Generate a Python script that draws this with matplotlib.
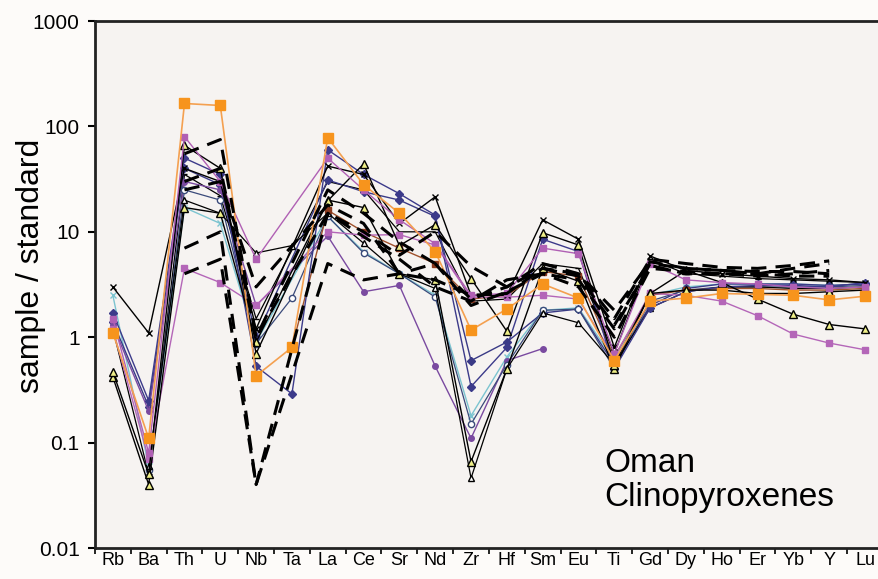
import matplotlib.pyplot as plt
import numpy as np

nan = np.nan

# element order on the x axis
elements = ['Rb', 'Ba', 'Th', 'U', 'Nb', 'Ta', 'La', 'Ce', 'Sr', 'Nd', 'Zr',
            'Hf', 'Sm', 'Eu', 'Ti', 'Gd', 'Dy', 'Ho', 'Er', 'Yb', 'Y', 'Lu']

# sample / standard values (nan = not analysed)
orange_sq = [1.1, 0.11, 165, 158, 0.43, 0.8, 78, 28, 15, 6.5, 1.17, 1.85,
             3.2, 2.35, 0.6, 2.2, 2.35, 2.6, 2.55, 2.5, 2.26, 2.45]
magenta_hi = [1.5, 0.08, 80, 30, 5.5, nan, 50, 25, 13, 7.7, 2.5, 2.6,
              7.0, 6.2, 0.7, 5.0, 3.5, 3.3, 3.2, 3.0, 2.9, 3.0]
magenta_lo = [1.2, 0.07, 4.5, 3.3, 2.0, nan, 10, 9.3, 9.4, 7.5, 2.4, 2.4,
              2.5, 2.3, 0.65, 2.6, 2.5, 2.2, 1.6, 1.07, 0.88, 0.76]
navy_a = [1.7, 0.25, 50, 35, 0.53, 0.29, 60, 35, 23, 14.4, 0.34, 0.8,
          8.5, 6.5, 0.5, 1.9, 2.7, 3.0, 3.1, 3.1, 3.0, 3.3]
navy_b = [1.4, 0.22, 40, 28, 1.0, nan, 31, 24, 20, 14, 0.6, 0.9,
          1.7, 1.85, 0.55, 2.0, 2.9, 3.2, 3.2, 3.2, 3.1, 3.2]
violet = [1.3, 0.2, 30, 25, 2.0, nan, 9.1, 2.7, 3.1, 0.53, 0.11, 0.6,
          0.78, nan, nan, nan, nan, nan, nan, nan, nan, nan]
black_x = [3.0, 1.1, 40, 30, 1.2, nan, 42, 35, 12, 21.5, 2.5, 2.5,
           13, 8.5, 0.8, 5.9, 4.3, 4.0, 3.8, 3.6, 3.5, 3.3]
cyan = [2.5, 0.06, 17, 12, 0.9, nan, 14, 6.5, 4.0, 2.5, 0.18, 0.65,
        1.8, 1.9, 0.6, 2.5, 3.0, 3.2, 3.2, 3.2, 3.1, 3.2]
tri_hi = [0.47, 0.05, 66, 40, 0.7, nan, 19.7, 44, 7.4, 11.7, 3.6, 1.14,
          9.8, 7.5, 0.55, 2.6, 4.3, 3.3, 2.3, 1.65, 1.32, 1.2]
tri_lo = [0.42, 0.04, 17, 15, 0.9, nan, 20, 17, 4.0, 3.5, 0.066, 0.5,
          4.5, 3.4, 0.5, 2.6, 2.8, 2.8, 2.6, 2.6, 2.7, 2.8]
white_tri = [nan, 0.06, 20, 15, 6.3, 7.4, 15, 7.8, 4.0, 2.9, 0.046, 0.5,
             1.7, 1.37, 0.55, 1.9, 2.7, 3.0, 3.0, 2.9, 2.9, 3.0]
white_circ = [nan, 0.055, 25, 20, 0.87, 2.35, 14, 6.3, 4.0, 2.4, 0.15, 0.55,
              1.8, 1.85, 0.5, 2.2, 2.8, 3.0, 3.0, 3.0, 3.0, 3.1]
brown = [nan, nan, nan, nan, nan, 0.8, 16, 10, 7.0, 5.0, 2.3, 2.5,
         4.2, 3.8, 0.65, 2.5, 2.8, 2.9, 2.9, 2.8, 2.8, 2.9]
black_plain = [1.2, 0.05, 35, 22, 1.5, nan, 30, 25, 10, 10, 2.2, 2.3,
               5.0, 4.5, 0.7, 5.5, 4.0, 3.8, 3.6, 3.5, 3.4, 3.3]

dashed = [
    [nan, nan, 55, 75, 1.0, nan, 15, 10, 6.0, 10, 4.7, 3.0, 4.5, 4.0, 1.5, 5.5, 5.0, 4.6, 4.5, 4.8, 5.3, nan],
    [nan, nan, 7, 10, 0.04, nan, 15, 9, 5.5, 3.0, 2.2, 3.5, 4.0, 3.5, 1.2, 5.0, 4.5, 4.3, 4.0, 4.5, 5.0, nan],
    [nan, nan, 4, 5.5, 0.04, nan, 5, 3.5, 4.0, 5.0, 2.0, 2.7, 4.0, 3.0, 1.0, 4.5, 4.2, 4.0, 3.8, 4.0, 4.3, nan],
    [nan, nan, 30, 40, 1.0, nan, 25, 15, 8.0, 5.0, 2.3, 3.0, 5.0, 4.0, 1.8, 5.2, 4.5, 4.3, 4.2, 4.2, 4.0, nan],
    [nan, nan, 25, 30, 3.0, nan, 18, 12, 4.0, 3.5, 2.5, 2.6, 4.5, 3.8, 1.3, 4.8, 4.0, 4.0, 4.0, 3.8, 3.8, nan],
]

x = np.arange(len(elements))
font = ['Liberation Sans', 'DejaVu Sans']


def draw(vals, **kw):
    # skip missing elements so the line joins the neighbours directly
    v = np.array(vals, dtype=float)
    ok = ~np.isnan(v)
    ax.plot(x[ok], v[ok], **kw)


fig = plt.figure(figsize=(8.79, 5.79), dpi=100, facecolor='#fdfbf9')
ax = fig.add_axes([0.108, 0.0535, 0.8965, 0.9102])
ax.set_facecolor('#f6f3f1')

draw(black_plain, color='black', lw=0.9, marker='_', ms=4)
draw(cyan, color='#7cc4d0', lw=1.0, marker='x', ms=4, mew=1)
draw(navy_b, color='#3a3a86', lw=1.0, marker='D', ms=4)
draw(violet, color='#7a4aa0', lw=1.0, marker='o', ms=4)
draw(white_circ, color='#3a4a7a', lw=0.9, marker='o', ms=4.5, mfc='white')
draw(white_tri, color='black', lw=0.9, marker='^', ms=5, mfc='white')
draw(brown, color='#a0522d', lw=1.0, marker='s', ms=4.5, mfc='#8b3a1e', mec='#8b3a1e')
draw(magenta_lo, color='#b466b8', lw=1.0, marker='s', ms=4.5)
draw(navy_a, color='#3c3a8a', lw=1.0, marker='D', ms=4)
draw(black_x, color='black', lw=1.0, marker='x', ms=4, mew=1)
draw(tri_lo, color='black', lw=1.0, marker='^', ms=5.5, mfc='#eeee88', mec='black')
draw(tri_hi, color='black', lw=1.0, marker='^', ms=5.5, mfc='#eeee88', mec='black')
draw(magenta_hi, color='#b060b4', lw=1.0, marker='s', ms=4.5)
draw(orange_sq, color='#f4a050', lw=1.2, marker='s', ms=7.5, mfc='#f7941d', mec='#f7941d')

for d in dashed:
    draw(d, color='black', lw=2.2, ls=(0, (5, 3)), zorder=3)

ax.set_yscale('log')
ax.set_ylim(0.01, 1000)
ax.set_xlim(-0.5, len(elements) - 0.5)

ax.set_xticks(x)
ax.set_xticklabels(elements, family=font, fontsize=13)
ax.set_xticks(np.arange(len(elements) + 1) - 0.5, minor=True)
ax.tick_params(axis='x', which='major', length=0, pad=3)
ax.tick_params(axis='x', which='minor', length=4, width=1.2, direction='out')

ax.set_yticks([0.01, 0.1, 1, 10, 100, 1000])
ax.set_yticklabels(['0.01', '0.1', '1', '10', '100', '1000'], family=font, fontsize=15)
ax.yaxis.set_minor_locator(plt.NullLocator())
ax.tick_params(axis='y', which='major', length=5, width=1.5, direction='out', pad=6)

ax.set_ylabel('sample / standard', family=font, fontsize=23)
ax.yaxis.set_label_coords(-0.062, 0.535)

for side in ['left', 'top', 'bottom']:
    ax.spines[side].set_linewidth(2)
    ax.spines[side].set_color('#222222')
ax.spines['right'].set_visible(False)

ax.text(0.646, 0.128, 'Oman\nClinopyroxenes', transform=ax.transAxes,
        family=font, fontsize=24, linespacing=1.15, ha='left', va='center')

fig.savefig('out.png', dpi=100, facecolor=fig.get_facecolor())
